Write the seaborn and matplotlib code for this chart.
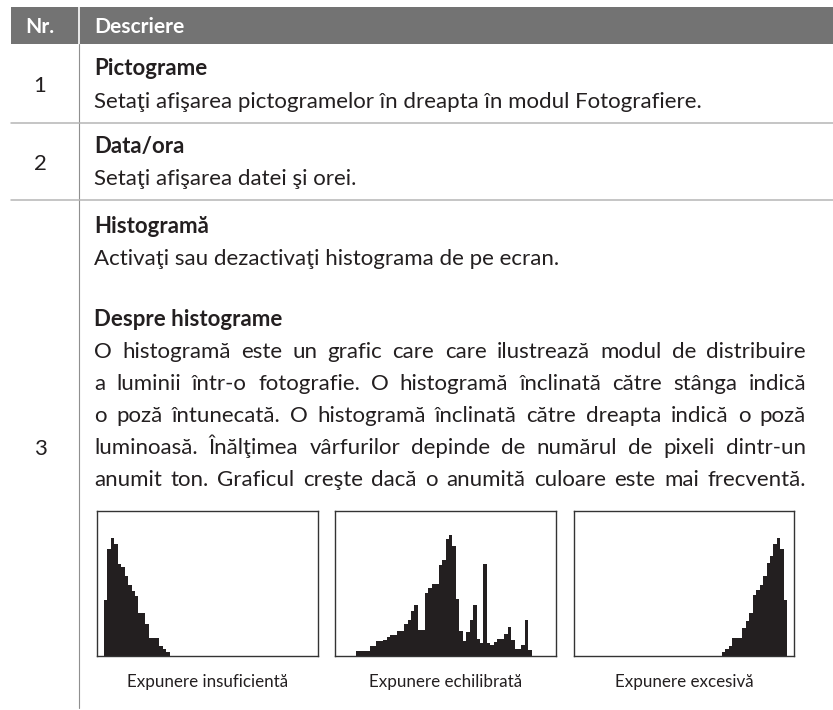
import numpy as np
import pandas as pd
import matplotlib
matplotlib.use("Agg")
import matplotlib.pyplot as plt
from matplotlib.patches import Rectangle
import seaborn as sns

# ---------------- data ----------------
header_cols = ["Nr.", "Descriere"]
row_numbers = ["1", "2", "3"]
row_titles = ["Pictograme", "Data/ora", "Histogramă"]
row_texts = [
    "Setaţi afişarea pictogramelor în dreapta în modul Fotografiere.",
    "Setaţi afişarea datei şi orei.",
    "Activaţi sau dezactivaţi histograma de pe ecran.",
]
about_title = "Despre histograme"
about_lines = [
    "O histogramă este un grafic care care ilustrează modul de distribuire",
    "a luminii într-o fotografie. O histogramă înclinată către stânga indică",
    "o poză întunecată. O histogramă înclinată către dreapta indică o poză",
    "luminoasă. Înălţimea vârfurilor depinde de numărul de pixeli dintr-un",
    "anumit ton. Graficul creşte dacă o anumită culoare este mai frecventă.",
]
hist_labels = ["Expunere insuficientă", "Expunere echilibrată", "Expunere excesivă"]

# 64 tonal bins per histogram (relative pixel counts)
hist_under = [0, 0, 56, 107, 118, 112, 92, 89, 80, 71, 65, 60, 43, 43, 32, 18,
              18, 18, 10, 7, 4, 0, 0, 0, 0, 0, 0, 0, 0, 0, 0, 0,
              0, 0, 0, 0, 0, 0, 0, 0, 0, 0, 0, 0, 0, 0, 0, 0,
              0, 0, 0, 0, 0, 0, 0, 0, 0, 0, 0, 0, 0, 0, 0, 0]
hist_balanced = [0, 0, 0, 0, 0, 0, 5, 5, 5, 5, 10, 10, 15, 15, 16, 19,
                 21, 21, 25, 25, 32, 36, 45, 51, 26, 26, 63, 68, 72, 72, 91, 96,
                 117, 121, 110, 57, 25, 15, 24, 36, 51, 17, 13, 92, 13, 11, 14, 17,
                 17, 22, 29, 16, 7, 7, 11, 36, 6, 0, 0, 0, 0, 0, 0, 0]
hist_over = [0, 0, 0, 0, 0, 0, 0, 0, 0, 0, 0, 0, 0, 0, 0, 0,
             0, 0, 0, 0, 0, 0, 0, 0, 0, 0, 0, 0, 0, 0, 0, 0,
             0, 0, 0, 0, 0, 0, 0, 0, 0, 0, 0, 4, 7, 10, 18, 18,
             18, 28, 35, 43, 61, 66, 71, 80, 93, 100, 112, 118, 107, 56, 0, 0]

# ---------------- style ----------------
sns.set_theme(style="white")
plt.rcParams["font.family"] = ["Lato", "DejaVu Sans"]

TEXT = "#231f20"
HEADER = "#737373"
VLINE = "#8f8f8f"
HLINE = "#b5b5b5"
FILL = "#231f20"

W, H = 833, 710
fig = plt.figure(figsize=(W / 100, H / 100), dpi=100)
fig.patch.set_facecolor("white")
bg = fig.add_axes([0, 0, 1, 1])
bg.set_xlim(0, W)
bg.set_ylim(H, 0)
bg.axis("off")

def pt(px):
    return px * 0.72

BODY = pt(22.3)
HEAD = pt(21)
LAB = pt(17)

# header band
bg.add_patch(Rectangle((11, 7), W - 11, 37, facecolor=HEADER, edgecolor="none"))
bg.plot([79, 79], [7, 44], color="white", lw=1.2)
bg.text(40, 33, header_cols[0], ha="center", va="baseline", color="white",
        weight="bold", size=HEAD)
bg.text(94, 33, header_cols[1], ha="left", va="baseline", color="white",
        weight="bold", size=HEAD)

# grid lines
bg.plot([79, 79], [44, 708], color=VLINE, lw=0.8)
for yy in (123, 200):
    bg.plot([11, W], [yy, yy], color=HLINE, lw=1.1)

# rows
num_base = [92, 170, 455]
title_base = [75, 153, 233]
text_base = [108, 185, 265]
for n, t, d, yn, yt, yd in zip(row_numbers, row_titles, row_texts,
                                num_base, title_base, text_base):
    bg.text(40, yn, n, ha="center", va="baseline", color=TEXT, size=BODY)
    bg.text(94, yt, t, ha="left", va="baseline", color=TEXT, size=BODY,
            weight="bold")
    bg.text(94, yd, d, ha="left", va="baseline", color=TEXT, size=BODY)

bg.text(94, 326, about_title, ha="left", va="baseline", color=TEXT,
        size=BODY, weight="bold")

# justified paragraph
renderer = fig.canvas.get_renderer()

def text_width(s):
    t = bg.text(0, 0, s, size=BODY)
    w = t.get_window_extent(renderer).width
    t.remove()
    return w

space_w = text_width("a a") - 2 * text_width("a")

def justify(line, y, x0, x1):
    words = line.split(" ")
    objs = [bg.text(0, y, w, ha="left", va="baseline", color=TEXT, size=BODY)
            for w in words]
    widths = [o.get_window_extent(renderer).width for o in objs]
    gap = (x1 - x0 - sum(widths)) / (len(words) - 1)
    if gap < 0.5 * space_w:
        gap = space_w
    x = x0
    for o, w in zip(objs, widths):
        o.set_x(x)
        x += w + gap

para_base = [358, 390, 422, 454, 486]
for line, yy in zip(about_lines, para_base):
    justify(line, yy, 94, 806)

# histograms
boxes = [(97, 318), (335, 556), (574, 794)]
series = [hist_under, hist_balanced, hist_over]
centers = np.arange(64) + 0.5
for (x0, x1), vals, lab in zip(boxes, series, hist_labels):
    ax = fig.add_axes([x0 / W, 1 - 656 / H, (x1 - x0) / W, (656 - 511) / H])
    df = pd.DataFrame({"tone": centers, "count": np.asarray(vals, dtype=float)})
    sns.histplot(data=df, x="tone", weights="count", bins=64, binrange=(0, 64),
                 element="step", fill=True, color=FILL, alpha=1, linewidth=0,
                 ax=ax)
    ax.set_xlim(0, 64)
    ax.set_ylim(0, 145)
    ax.set_xticks([])
    ax.set_yticks([])
    ax.set_xlabel("")
    ax.set_ylabel("")
    ax.set_facecolor("white")
    for s in ax.spines.values():
        s.set_visible(True)
        s.set_color("#333333")
        s.set_linewidth(1.0)
    bg.text((x0 + x1) / 2, 687, lab, ha="center", va="baseline", color=TEXT,
            size=LAB)

fig.savefig("out.png", dpi=100)
